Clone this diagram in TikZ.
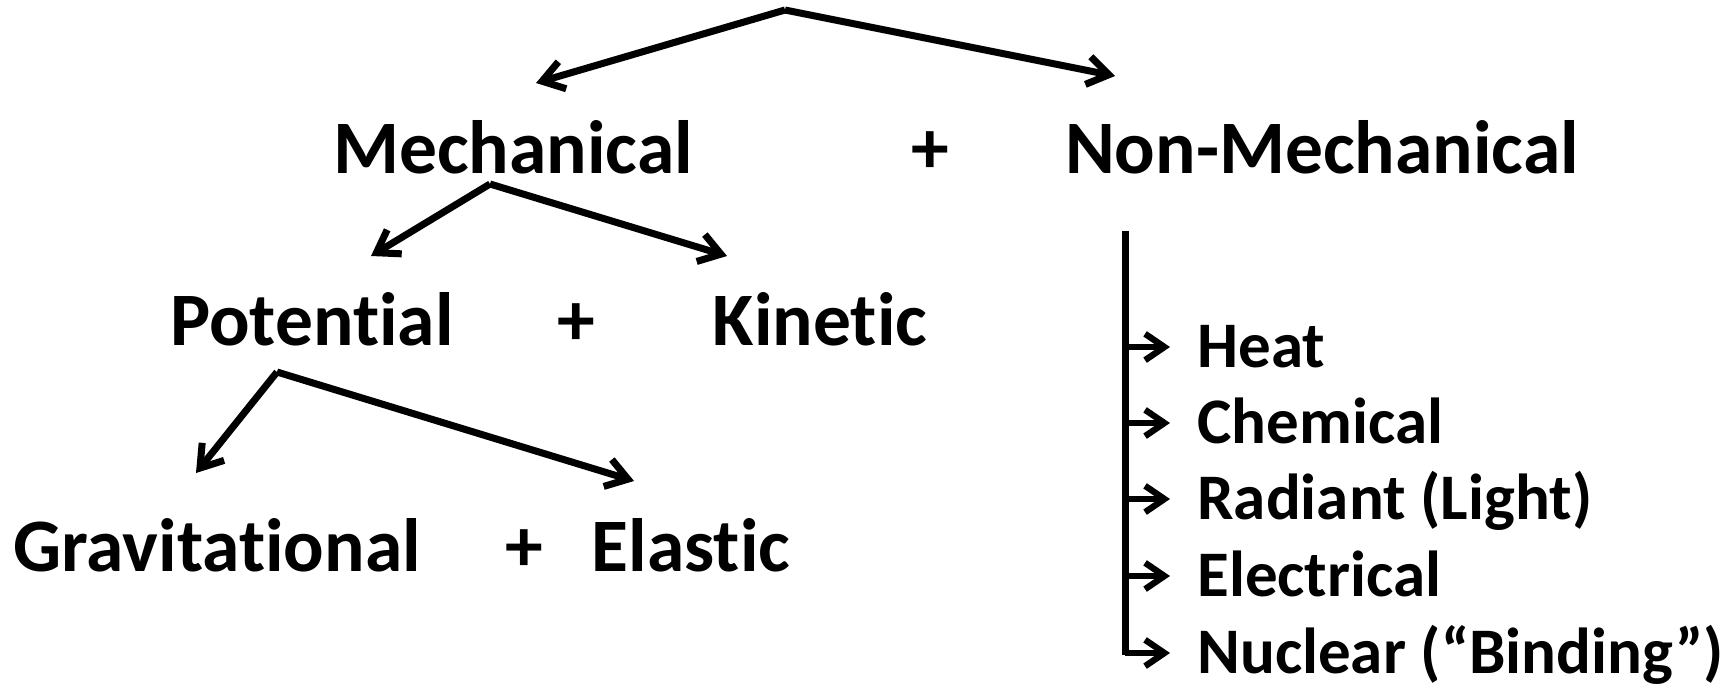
\documentclass[tikz,border=0pt]{standalone}
\usepackage{fontspec}
\setmainfont{Carlito}[Ligatures=NoCommon]
\usetikzlibrary{arrows.meta}

\tikzset{
  barb/.style={-{Straight Barb[length=12pt,width=16pt]}, line width=4pt},
  smallbarb/.style={-{Straight Barb[length=11pt,width=15pt]}, line width=3.6pt},
  big/.style={inner sep=0pt, anchor=base, font=\fontsize{43}{43}\selectfont\bfseries},
  item/.style={inner sep=0pt, anchor=base west, font=\fontsize{37}{37}\selectfont\bfseries}
}

\begin{document}
\begin{tikzpicture}[x=0.02cm, y=-0.02cm]
  \useasboundingbox (0,0) rectangle (1726,686);

  % Parameters
  \def\armx{45}

  % First level
  \node[big] (mech) at (513,173) {Mechanical};
  \node[big] (plusA) at (930,173) {+};
  \node[big] (nonmech) at (1322,173) {Non-Mechanical};

  % Second level
  \node[big] (pot) at (312,345) {Potential};
  \node[big] (plusB) at (576,345) {+};
  \node[big] (kin) at (820,345) {Kinetic};

  % Third level
  \node[big] (grav) at (217,571) {Gravitational};
  \node[big] (plusC) at (524,571) {+};
  \node[big] (elas) at (691,571) {Elastic};

  % Forks
  \coordinate (top) at (785,10);
  \coordinate (mechtip) at (536,83);
  \coordinate (nontip) at (1115,76);
  \coordinate (mechfork) at (490,184);
  \coordinate (pottip) at (371,256);
  \coordinate (kintip) at (727,256);
  \coordinate (potfork) at (277,372);
  \coordinate (gravtip) at (196,473);
  \coordinate (elastip) at (634,481);

  \draw[barb] (top) -- (mechtip);
  \draw[barb] (top) -- (nontip);
  \draw[barb] (mechfork) -- (pottip);
  \draw[barb] (mechfork) -- (kintip);
  \draw[barb] (potfork) -- (gravtip);
  \draw[barb] (potfork) -- (elastip);

  % Non-mechanical list
  \node[item] (heat) at (1197,367) {Heat};
  \node[item] (chem) at (1197,443) {Chemical};
  \node[item] (rad)  at (1197,519) {Radiant (Light)};
  \node[item] (elec) at (1197,596) {Electrical};
  \node[item] (nuc)  at (1197,673) {Nuclear (“Binding”)};

  \coordinate (spinetop) at (1125,231);
  \coordinate (spinebot) at (1125,655);
  \draw[line width=4pt] (spinetop) -- (spinebot);

  \foreach \n in {heat,chem,rad,elec,nuc}
    \draw[smallbarb] (spinetop |- \n.base) ++(0,-20) -- ++(\armx,0);

\end{tikzpicture}
\end{document}
